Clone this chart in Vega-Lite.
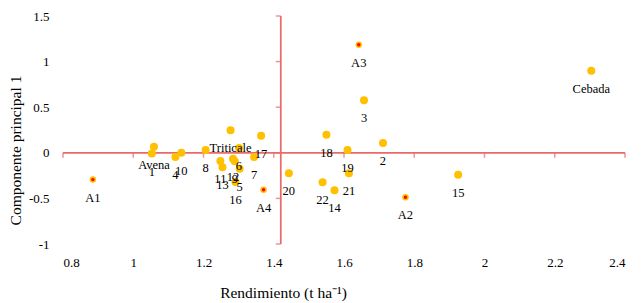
{
  "$schema": "https://vega.github.io/schema/vega-lite/v6.json",
  "width": 562,
  "height": 228,
  "autosize": {"type": "none"},
  "padding": {"left": 63, "top": 16, "right": 17, "bottom": 59},
  "background": "white",
  "config": {
    "view": {"stroke": null},
    "font": "Times New Roman, Liberation Serif, serif",
    "axis": {
      "domain": false,
      "grid": false,
      "ticks": false,
      "tickSize": 0,
      "labelFont": "Times New Roman, Liberation Serif, serif",
      "labelFontSize": 13,
      "labelColor": "#000000",
      "titleFont": "Times New Roman, Liberation Serif, serif",
      "titleFontSize": 15.5,
      "titleFontWeight": "normal",
      "titleColor": "#000000"
    }
  },
  "datasets": {
    "pts": [
      {"x": 1.059, "y": 0.065, "label": "Avena", "grupo": "G"},
      {"x": 1.053, "y": -0.009, "label": "1", "grupo": "G"},
      {"x": 1.120, "y": -0.045, "label": "4", "grupo": "G"},
      {"x": 1.137, "y": 0.0, "label": "10", "grupo": "G"},
      {"x": 1.206, "y": 0.032, "label": "8", "grupo": "G"},
      {"x": 1.277, "y": 0.246, "label": "Triticale", "grupo": "G"},
      {"x": 1.248, "y": -0.089, "label": "11", "grupo": "G"},
      {"x": 1.254, "y": -0.159, "label": "13", "grupo": "G"},
      {"x": 1.284, "y": -0.064, "label": "12", "grupo": "G"},
      {"x": 1.289, "y": -0.093, "label": "9", "grupo": "G"},
      {"x": 1.301, "y": 0.054, "label": "6", "grupo": "G"},
      {"x": 1.303, "y": -0.176, "label": "5", "grupo": "G"},
      {"x": 1.291, "y": -0.319, "label": "16", "grupo": "G"},
      {"x": 1.344, "y": -0.045, "label": "7", "grupo": "G"},
      {"x": 1.364, "y": 0.188, "label": "17", "grupo": "G"},
      {"x": 1.443, "y": -0.225, "label": "20", "grupo": "G"},
      {"x": 1.539, "y": -0.323, "label": "22", "grupo": "G"},
      {"x": 1.550, "y": 0.199, "label": "18", "grupo": "G"},
      {"x": 1.573, "y": -0.411, "label": "14", "grupo": "G"},
      {"x": 1.610, "y": 0.032, "label": "19", "grupo": "G"},
      {"x": 1.614, "y": -0.225, "label": "21", "grupo": "G"},
      {"x": 1.657, "y": 0.575, "label": "3", "grupo": "G"},
      {"x": 1.711, "y": 0.108, "label": "2", "grupo": "G"},
      {"x": 1.925, "y": -0.242, "label": "15", "grupo": "G"},
      {"x": 2.304, "y": 0.900, "label": "Cebada", "grupo": "G"},
      {"x": 0.885, "y": -0.294, "label": "A1", "grupo": "A"},
      {"x": 1.775, "y": -0.487, "label": "A2", "grupo": "A"},
      {"x": 1.642, "y": 1.185, "label": "A3", "grupo": "A"},
      {"x": 1.371, "y": -0.406, "label": "A4", "grupo": "A"}
    ],
    "xticks": [{"x": 0.8}, {"x": 1.0}, {"x": 1.2}, {"x": 1.4}, {"x": 1.6}, {"x": 1.8}, {"x": 2.0}, {"x": 2.2}, {"x": 2.4}],
    "yticks": [{"y": -1}, {"y": -0.5}, {"y": 0}, {"y": 0.5}, {"y": 1}, {"y": 1.5}]
  },
  "layer": [
    {
      "data": {"values": [{"y": 0, "x": 1.42}]},
      "mark": {"type": "rule", "color": "#E86A6A", "strokeWidth": 1.75},
      "encoding": {
        "y": {
          "field": "y", "type": "quantitative",
          "scale": {"domain": [-1, 1.5], "nice": false},
          "axis": {
            "title": "Componente principal 1",
            "values": [-1, -0.5, 0, 0.5, 1, 1.5],
            "labelExpr": "'' + datum.value",
            "labelPadding": 14,
            "titleX": -48,
            "titleY": 134,
            "titleBaseline": "middle",
            "titleAnchor": "middle"
          }
        }
      }
    },
    {
      "data": {"values": [{"x": 1.42}]},
      "mark": {"type": "rule", "color": "#E86A6A", "strokeWidth": 1.75},
      "encoding": {
        "x": {
          "field": "x", "type": "quantitative",
          "scale": {"domain": [0.8, 2.4], "nice": false, "zero": false},
          "axis": {
            "title": "Rendimiento (t ha⁻¹)",
            "values": [0.8, 1.0, 1.2, 1.4, 1.6, 1.8, 2.0, 2.2, 2.4],
            "labelExpr": "'' + datum.value",
            "labelPadding": 12,
            "titleX": 220,
            "titleY": 53,
            "titleBaseline": "alphabetic",
            "titleAnchor": "middle"
          }
        }
      }
    },
    {
      "data": {"name": "xticks"},
      "mark": {"type": "tick", "orient": "vertical", "color": "#E86A6A", "size": 5, "thickness": 1.5, "yOffset": 2.5},
      "encoding": {
        "x": {"field": "x", "type": "quantitative"},
        "y": {"datum": 0, "type": "quantitative"}
      }
    },
    {
      "data": {"name": "yticks"},
      "mark": {"type": "tick", "orient": "horizontal", "color": "#E86A6A", "size": 5, "thickness": 1.5, "xOffset": -2.5},
      "encoding": {
        "y": {"field": "y", "type": "quantitative"},
        "x": {"datum": 1.42, "type": "quantitative"}
      }
    },
    {
      "data": {"name": "pts"},
      "transform": [{"filter": "datum.grupo == 'G'"}],
      "mark": {"type": "circle", "color": "#FFC000", "opacity": 1, "size": 64},
      "encoding": {
        "x": {"field": "x", "type": "quantitative"},
        "y": {"field": "y", "type": "quantitative"}
      }
    },
    {
      "data": {"name": "pts"},
      "transform": [{"filter": "datum.grupo == 'A'"}],
      "mark": {"type": "circle", "color": "#FFC000", "opacity": 1, "size": 42},
      "encoding": {
        "x": {"field": "x", "type": "quantitative"},
        "y": {"field": "y", "type": "quantitative"}
      }
    },
    {
      "data": {"name": "pts"},
      "transform": [{"filter": "datum.grupo == 'A'"}],
      "mark": {"type": "circle", "color": "#FF0000", "opacity": 1, "size": 12},
      "encoding": {
        "x": {"field": "x", "type": "quantitative"},
        "y": {"field": "y", "type": "quantitative"}
      }
    },
    {
      "data": {"name": "pts"},
      "mark": {"type": "text", "font": "Times New Roman, Liberation Serif, serif", "fontSize": 12.5, "color": "#000000", "dy": 18, "baseline": "middle", "align": "center"},
      "encoding": {
        "x": {"field": "x", "type": "quantitative"},
        "y": {"field": "y", "type": "quantitative"},
        "text": {"field": "label"}
      }
    }
  ]
}
